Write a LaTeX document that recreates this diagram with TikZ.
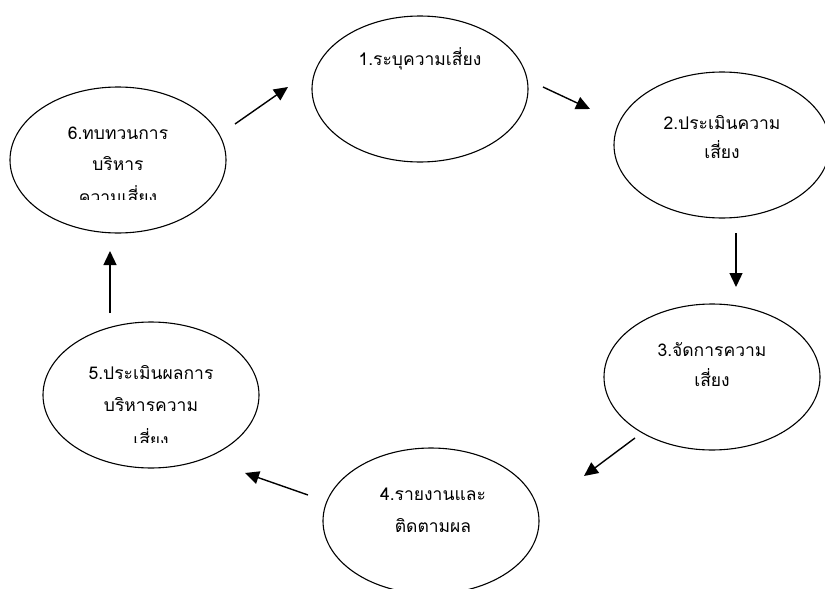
\documentclass[tikz,border=0pt]{standalone}
\usepackage{fontspec}
\newfontfamily\thaifont[Script=Thai]{Loma}
\usetikzlibrary{arrows.meta,shapes.geometric}
\begin{document}
\begin{tikzpicture}[x=1pt,y=-1pt,
  stage/.style={draw, line width=1.1pt, ellipse, minimum width=216pt, minimum height=146pt, inner sep=0pt},
  lbl/.style={font=\thaifont\fontsize{17.5}{20}\selectfont, inner sep=0pt, anchor=mid},
  cutlbl/.style={lbl, anchor=base},
  flow/.style={line width=1.4pt, -{Triangle[length=14pt,width=13pt]}}]
\useasboundingbox (0,0) rectangle (825,589);
\fill[white] (0,0) rectangle (825,589);
% stages
\node[stage] (e1) at (420,89) {};
\node[stage] (e2) at (722,145) {};
\node[stage] (e3) at (712,377) {};
\node[stage] (e4) at (431,521) {};
\node[stage] (e5) at (151,395) {};
\node[stage] (e6) at (118,160) {};
% labels
\node[lbl] (t1a) at (420,63) {1.ระบุความเสี่ยง};
\node[lbl] (t2a) at (722,127) {2.ประเมินความ};
\node[lbl] (t2b) at (722,156) {เสี่ยง};
\node[lbl] (t3a) at (712,354) {3.จัดการความ};
\node[lbl] (t3b) at (712,384) {เสี่ยง};
\node[lbl] (t4a) at (433,498) {4.รายงานและ};
\node[lbl] (t4b) at (433,530) {ติดตามผล};
\node[lbl] (t5a) at (151,377) {5.ประเมินผลการ};
\node[lbl] (t5b) at (151,409) {บริหารความ};
\begin{scope}
\clip (0,0) rectangle (825,442);
\node[cutlbl] (t5c) at (151,446) {เสี่ยง};
\end{scope}
\node[lbl] (t6a) at (118,137) {6.ทบทวนการ};
\node[lbl] (t6b) at (118,168) {บริหาร};
\begin{scope}
\clip (0,0) rectangle (825,199);
\node[cutlbl] (t6c) at (118,203) {ความเสี่ยง};
\end{scope}
% arrow end points
\coordinate (a61s) at (235,124); \coordinate (a61e) at (288,87);
\coordinate (a12s) at (543,87);  \coordinate (a12e) at (590,109);
\coordinate (a23s) at (736,233); \coordinate (a23e) at (736,287);
\coordinate (a34s) at (635,438); \coordinate (a34e) at (584,476);
\coordinate (a45s) at (308,495); \coordinate (a45e) at (245,473);
\coordinate (a56s) at (110,313); \coordinate (a56e) at (110,251);
\draw[flow] (a61s) -- (a61e);
\draw[flow] (a12s) -- (a12e);
\draw[flow] (a23s) -- (a23e);
\draw[flow] (a34s) -- (a34e);
\draw[flow] (a45s) -- (a45e);
\draw[flow] (a56s) -- (a56e);
\end{tikzpicture}
\end{document}
